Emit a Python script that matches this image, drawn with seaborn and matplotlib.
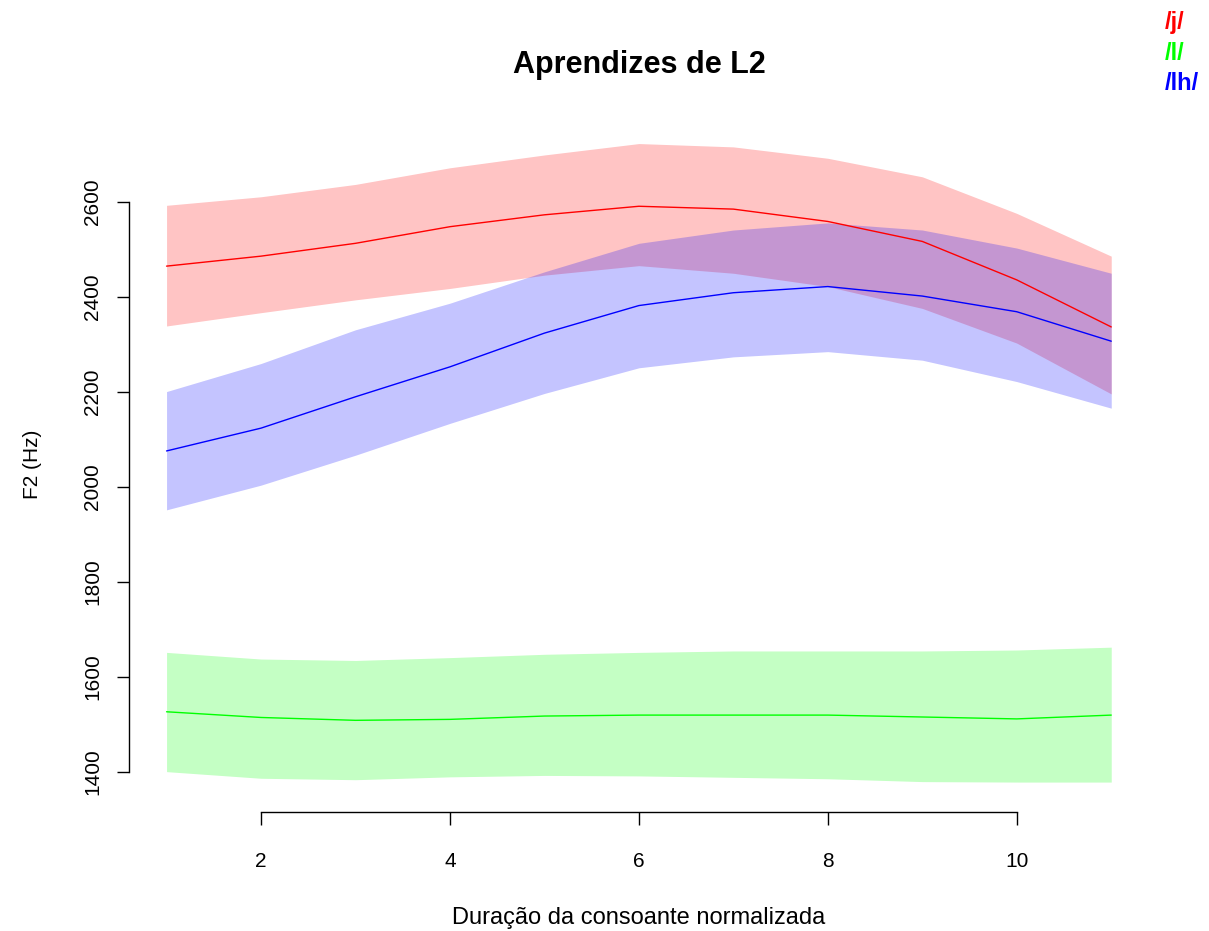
import matplotlib
matplotlib.use("Agg")
import matplotlib.pyplot as plt
import seaborn as sns
import pandas as pd

# normalised consonant duration (x) and F2 estimates with band limits
x = [1, 2, 3, 4, 5, 6, 7, 8, 9, 10, 11]

j_fit = [2465, 2486, 2513, 2548, 2573, 2591, 2585, 2559, 2517, 2436, 2337]
j_upper = [2593, 2611, 2637, 2672, 2699, 2723, 2716, 2692, 2653, 2576, 2486]
j_lower = [2339, 2367, 2394, 2418, 2446, 2466, 2450, 2422, 2376, 2303, 2196]

l_fit = [1527, 1515, 1509, 1511, 1518, 1520, 1520, 1520, 1516, 1512, 1520]
l_upper = [1652, 1638, 1635, 1641, 1648, 1652, 1655, 1655, 1655, 1657, 1663]
l_lower = [1401, 1387, 1384, 1390, 1393, 1392, 1389, 1386, 1380, 1379, 1379]

lh_fit = [2076, 2124, 2190, 2253, 2324, 2382, 2409, 2422, 2402, 2369, 2307]
lh_upper = [2201, 2260, 2331, 2387, 2453, 2513, 2541, 2556, 2541, 2503, 2450]
lh_lower = [1952, 2004, 2067, 2134, 2197, 2251, 2274, 2285, 2267, 2222, 2166]

labels = ["/j/", "/l/", "/lh/"]
colors = ["#FF0000", "#00FF00", "#0000FF"]

sns.set_style("white")
plt.rcParams["font.family"] = ["Liberation Sans", "DejaVu Sans"]
plt.rcParams["text.color"] = "black"
plt.rcParams["axes.labelcolor"] = "black"

fig = plt.figure(figsize=(12.09, 9.31), dpi=100)
ax = fig.add_axes([0.1065, 0.1278, 0.8439, 0.7471])

series = [(j_fit, j_upper, j_lower), (l_fit, l_upper, l_lower), (lh_fit, lh_upper, lh_lower)]
for (fit, up, lo), c, lab in zip(series, colors, labels):
    ax.fill_between(x, lo, up, color=c, alpha=0.23, linewidth=0)
    df = pd.DataFrame({"x": x, "y": fit})
    sns.lineplot(data=df, x="x", y="y", color=c, linewidth=1, ax=ax, errorbar=None)

ax.set_xlim(0.6, 11.4)
ax.set_ylim(1316, 2780)
ax.set_xticks([2, 4, 6, 8, 10])
ax.set_yticks([1400, 1600, 1800, 2000, 2200, 2400, 2600])
ax.tick_params(axis="both", labelsize=15, length=9, width=1, direction="out",
               left=True, bottom=True, colors="black")
ax.tick_params(axis="x", pad=20)
ax.tick_params(axis="y", pad=10)
for lbl in ax.get_yticklabels():
    lbl.set_rotation(90)
    lbl.set_va("center")
for s in ["top", "right"]:
    ax.spines[s].set_visible(False)
ax.spines["left"].set_bounds(1400, 2600)
ax.spines["bottom"].set_bounds(2, 10)
for s in ["left", "bottom"]:
    ax.spines[s].set_color("black")
    ax.spines[s].set_linewidth(1)

ax.set_xlabel("Duração da consoante normalizada", fontsize=17, labelpad=26)
ax.set_ylabel("F2 (Hz)", fontsize=15, labelpad=30)
ax.set_title("Aprendizes de L2", fontsize=22, fontweight="bold", pad=31, color="black")

for i, (lab, c) in enumerate(zip(labels, colors)):
    fig.text(1165 / 1209, 1 - (23 + 30 * i) / 931, lab, color=c, fontsize=17,
             fontweight="bold", ha="left", va="center")

fig.savefig("out.png", dpi=100)
